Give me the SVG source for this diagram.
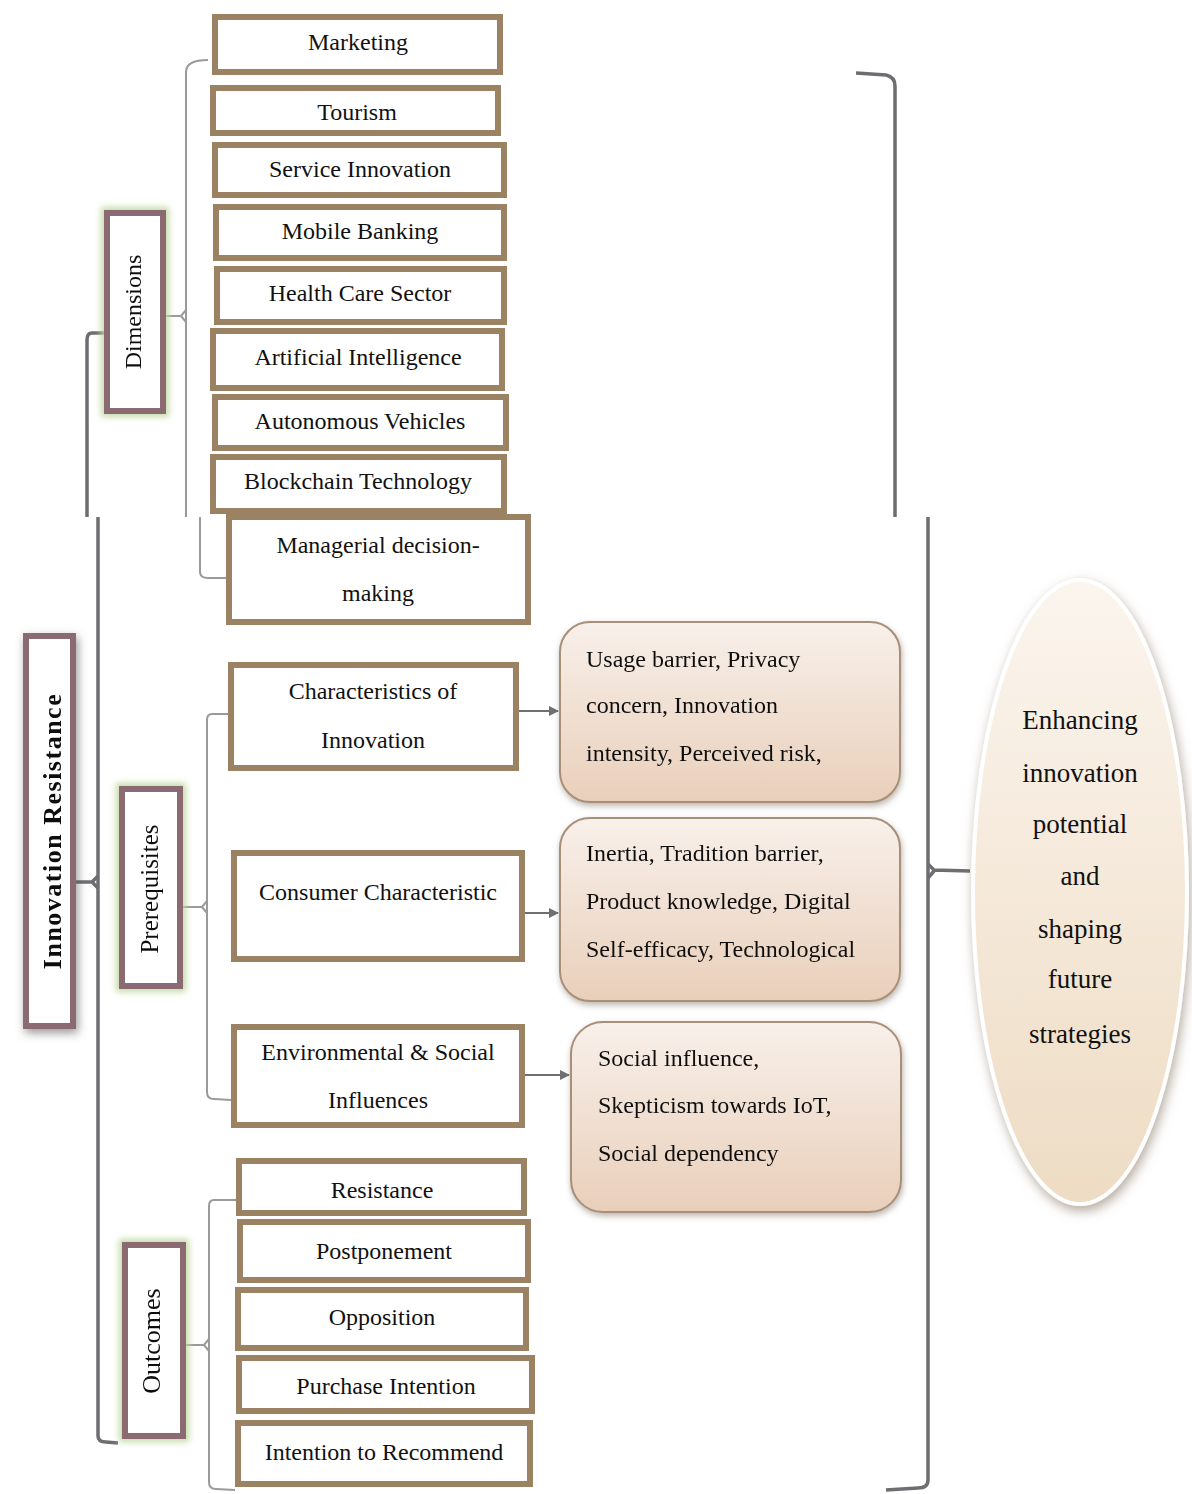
<svg xmlns="http://www.w3.org/2000/svg" width="1192" height="1494" viewBox="0 0 1192 1494">
<defs>
<linearGradient id="gBox" x1="0" y1="0" x2="0" y2="1">
<stop offset="0" stop-color="#f8f0ea"/>
<stop offset="1" stop-color="#e9cfba"/>
</linearGradient>
<linearGradient id="gEll" x1="0" y1="0" x2="0" y2="1">
<stop offset="0" stop-color="#fbf5ee"/>
<stop offset="1" stop-color="#eedcc4"/>
</linearGradient>
<filter id="shadow" x="-20%" y="-20%" width="140%" height="140%">
<feGaussianBlur in="SourceAlpha" stdDeviation="3"/>
<feOffset dx="1" dy="3" result="b"/>
<feFlood flood-color="#6a5a4a" flood-opacity="0.45"/>
<feComposite in2="b" operator="in"/>
<feMerge><feMergeNode/><feMergeNode in="SourceGraphic"/></feMerge>
</filter>
<filter id="ellShadow" x="-30%" y="-20%" width="160%" height="140%">
<feGaussianBlur in="SourceAlpha" stdDeviation="6"/>
<feOffset dx="2" dy="5" result="b"/>
<feFlood flood-color="#7a6650" flood-opacity="0.55"/>
<feComposite in2="b" operator="in"/>
<feMerge><feMergeNode/><feMergeNode in="SourceGraphic"/></feMerge>
</filter>
<filter id="glow" x="-40%" y="-20%" width="180%" height="140%">
<feMorphology in="SourceAlpha" operator="dilate" radius="3" result="d"/>
<feGaussianBlur in="d" stdDeviation="3" result="b"/>
<feFlood flood-color="#bfd8a0" flood-opacity="0.9"/>
<feComposite in2="b" operator="in"/>
<feMerge><feMergeNode/><feMergeNode in="SourceGraphic"/></feMerge>
</filter>
<filter id="greyShadow" x="-40%" y="-20%" width="180%" height="140%">
<feGaussianBlur in="SourceAlpha" stdDeviation="5"/>
<feOffset dx="2" dy="4" result="b"/>
<feFlood flood-color="#555" flood-opacity="0.6"/>
<feComposite in2="b" operator="in"/>
<feMerge><feMergeNode/><feMergeNode in="SourceGraphic"/></feMerge>
</filter>
<marker id="arr" viewBox="0 0 10 10" refX="9" refY="5" markerWidth="5" markerHeight="5" orient="auto">
<path d="M0,0 L10,5 L0,10 z" fill="#707070"/>
</marker>
</defs>
<style>
.box{fill:#ffffff;stroke:#9b8262;stroke-width:6}
.lab{fill:#ffffff;stroke:#8c6a72;stroke-width:6}
.rbox{fill:url(#gBox);stroke:#a89078;stroke-width:2}
.t{font-family:"Liberation Serif","Times New Roman",serif;font-size:24px;fill:#111111}
.c{text-anchor:middle}
.big{stroke:#6e6e72;stroke-width:3.5;fill:none}
.thin{stroke:#9a9a9a;stroke-width:2;fill:none}
.arrow{stroke:#707070;stroke-width:2;fill:none}
</style>

<g id="connectors">
<path class="thin" d="M208,60 Q186,60 186,72 L186,517"/>
<path class="thin" d="M165,316 L181,316 L186,310 M181,316 L186,322"/>
<path class="thin" d="M200,517 L200,572 Q200,578 208,578 L226,578"/>
<path class="big" d="M105,333 L92,333 Q87,333 87,340 L87,517"/>
<path class="big" d="M98,517 L98,1436 Q98,1442 106,1442 L118,1443"/>
<path class="big" d="M75,882 L92,882 L98,876 M92,882 L98,888"/>
<path class="thin" d="M228,714 L212,714 Q207,714 207,720 L207,1092 Q207,1099 214,1099 L231,1100"/>
<path class="thin" d="M182,907 L202,907 L207,901 M202,907 L207,913"/>
<path class="thin" d="M236,1200 L214,1200 Q209,1200 209,1206 L209,1482 Q209,1489 216,1489 L235,1490"/>
<path class="thin" d="M185,1345 L204,1345 L209,1339 M204,1345 L209,1351"/>
<path class="arrow" d="M519,711 L558,711" marker-end="url(#arr)"/>
<path class="arrow" d="M525,913 L558,913" marker-end="url(#arr)"/>
<path class="arrow" d="M525,1075 L569,1075" marker-end="url(#arr)"/>
<path class="big" d="M856,73 L886,75 Q895,77 895,86 L895,517"/>
<path class="big" d="M928,517 L928,1480 Q928,1488 918,1488 L886,1490"/>
<path class="big" d="M928,864 L934,870 L970,871 M928,878 L934,871"/>
</g>

<g id="n-marketing"><rect class="box" x="215" y="17" width="285" height="55"/><text class="t c" x="358" y="50">Marketing</text></g>
<g id="n-tourism"><rect class="box" x="213" y="88" width="285" height="45"/><text class="t c" x="357" y="120">Tourism</text></g>
<g id="n-service"><rect class="box" x="215" y="145" width="289" height="50"/><text class="t c" x="360" y="177">Service Innovation</text></g>
<g id="n-mobile"><rect class="box" x="216" y="207" width="288" height="51"/><text class="t c" x="360" y="239">Mobile Banking</text></g>
<g id="n-health"><rect class="box" x="217" y="269" width="287" height="53"/><text class="t c" x="360" y="301">Health Care Sector</text></g>
<g id="n-ai"><rect class="box" x="213" y="331" width="289" height="57"/><text class="t c" x="358" y="365">Artificial Intelligence</text></g>
<g id="n-auto"><rect class="box" x="215" y="397" width="291" height="51"/><text class="t c" x="360" y="429">Autonomous Vehicles</text></g>
<g id="n-blockchain"><rect class="box" x="213" y="457" width="291" height="54"/><text class="t c" x="358" y="489">Blockchain Technology</text></g>
<g id="n-managerial"><rect class="box" x="229" y="517" width="299" height="105"/><text class="t c" x="378" y="553">Managerial decision-</text><text class="t c" x="378" y="601">making</text></g>
<g id="n-charinn"><rect class="box" x="231" y="665" width="285" height="103"/><text class="t c" x="373" y="699">Characteristics of</text><text class="t c" x="373" y="748">Innovation</text></g>
<g id="n-consumer"><rect class="box" x="234" y="853" width="288" height="106"/><text class="t c" x="378" y="900">Consumer Characteristic</text></g>
<g id="n-env"><rect class="box" x="234" y="1027" width="288" height="98"/><text class="t c" x="378" y="1060">Environmental &amp; Social</text><text class="t c" x="378" y="1108">Influences</text></g>
<g id="n-resistance"><rect class="box" x="239" y="1161" width="285" height="52"/><text class="t c" x="382" y="1198">Resistance</text></g>
<g id="n-postponement"><rect class="box" x="240" y="1222" width="288" height="58"/><text class="t c" x="384" y="1259">Postponement</text></g>
<g id="n-opposition"><rect class="box" x="238" y="1290" width="288" height="58"/><text class="t c" x="382" y="1325">Opposition</text></g>
<g id="n-purchase"><rect class="box" x="239" y="1358" width="293" height="53"/><text class="t c" x="386" y="1394">Purchase Intention</text></g>
<g id="n-recommend"><rect class="box" x="238" y="1423" width="292" height="61"/><text class="t c" x="384" y="1460">Intention to Recommend</text></g>

<g id="n-usage" filter="url(#shadow)"><rect class="rbox" x="560" y="622" width="340" height="180" rx="30"/><text class="t" x="586" y="667">Usage barrier, Privacy</text><text class="t" x="586" y="713">concern, Innovation</text><text class="t" x="586" y="761">intensity, Perceived risk,</text></g>
<g id="n-inertia" filter="url(#shadow)"><rect class="rbox" x="560" y="818" width="340" height="183" rx="30"/><text class="t" x="586" y="861">Inertia, Tradition barrier,</text><text class="t" x="586" y="909">Product knowledge, Digital</text><text class="t" x="586" y="957">Self-efficacy, Technological</text></g>
<g id="n-social" filter="url(#shadow)"><rect class="rbox" x="571" y="1022" width="330" height="190" rx="32"/><text class="t" x="598" y="1066">Social influence,</text><text class="t" x="598" y="1113">Skepticism towards IoT,</text><text class="t" x="598" y="1161">Social dependency</text></g>

<g id="n-enhancing"><ellipse cx="1080" cy="892" rx="107" ry="312" fill="url(#gEll)" stroke="#ffffff" stroke-width="4" filter="url(#ellShadow)"/>
<g class="t c" style="font-size:27px"><text x="1080" y="729">Enhancing</text><text x="1080" y="782">innovation</text><text x="1080" y="833">potential</text><text x="1080" y="885">and</text><text x="1080" y="938">shaping</text><text x="1080" y="988">future</text><text x="1080" y="1043">strategies</text></g></g>

<g id="n-dimensions" filter="url(#glow)"><rect class="lab" x="107" y="213" width="56" height="198"/><text class="t c" transform="translate(141,312) rotate(-90)">Dimensions</text></g>
<g id="n-innovres" filter="url(#greyShadow)"><rect class="lab" x="26" y="636" width="47" height="390"/><text class="t c" style="font-weight:bold;font-size:26px;letter-spacing:1.5px" transform="translate(61,831) rotate(-90)">Innovation Resistance</text></g>
<g id="n-prereq" filter="url(#glow)"><rect class="lab" x="122" y="789" width="58" height="197"/><text class="t c" style="font-size:25px" transform="translate(158,889) rotate(-90)">Prerequisites</text></g>
<g id="n-outcomes" filter="url(#glow)"><rect class="lab" x="125" y="1245" width="58" height="191"/><text class="t c" style="font-size:26px" transform="translate(160,1341) rotate(-90)">Outcomes</text></g>
</svg>
